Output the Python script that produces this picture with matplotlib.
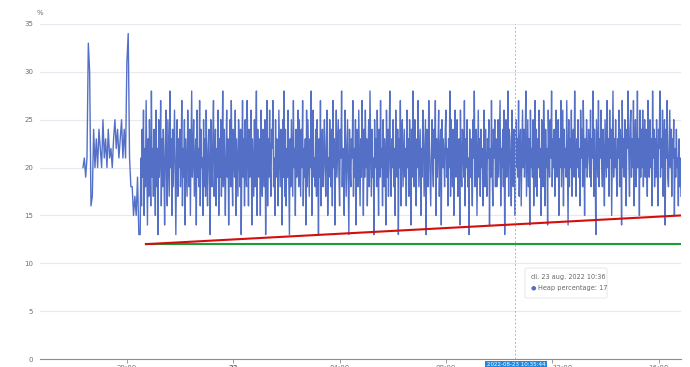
import matplotlib
matplotlib.use("Agg")
import matplotlib.pyplot as plt
import pandas as pd

# heap percentage in the evening run-up (about every 3 minutes)
early_heap = [20, 21, 19, 21, 33, 30, 16, 17, 24, 20, 23, 20, 24, 22, 20, 25, 21, 23, 20, 24,
              21, 22, 20, 23, 25, 22, 24, 21, 23, 25, 21, 24, 21, 31, 34, 21, 18, 18, 15, 17,
              15, 19, 13]
early_start, early_end = "2022-08-22 18:21", "2022-08-22 20:27"

# heap percentage for the long run (about every 1.5 minutes)
main_heap = [
    13, 21, 16, 24, 19, 26, 15, 22, 18, 27, 20, 14, 23, 17, 25, 21, 16, 28, 19, 22,
    17, 24, 20, 15, 26, 18, 22, 13, 25, 19, 21, 27, 16, 23, 18, 24, 20, 14, 22, 26,
    19, 16, 25, 21, 17, 28, 20, 23, 15, 24, 18, 22, 26, 19, 13, 21, 25, 17, 23, 20,
    24, 18, 21, 27, 16, 22, 19, 25, 14, 23, 20, 17, 26, 21, 18, 24, 15, 22, 28, 19,
    21, 25, 17, 20, 23, 14, 26, 19, 22, 18, 27, 16, 24, 20, 21, 15, 25, 18, 23, 17,
    26, 20, 16, 22, 24, 19, 13, 25, 21, 18, 23, 27, 17, 20, 24, 16, 22, 19, 26, 15,
    23, 19, 25, 17, 21, 28, 18, 24, 20, 15, 22, 26, 19, 23, 14, 21, 25, 18, 27, 20,
    16, 24, 21, 19, 26, 15, 23, 20, 17, 25, 22, 18, 24, 13, 21, 27, 19, 23, 16, 25,
    20, 18, 27, 22, 16, 24, 19, 21, 26, 14, 23, 20, 17, 25, 18, 22, 28, 15, 24, 21,
    19, 23, 15, 26, 20, 17, 24, 22, 18, 25, 13, 21, 27, 16, 23, 19, 26, 20, 17, 24,
    22, 27, 18, 21, 15, 25, 19, 23, 20, 16, 26, 22, 18, 24, 21, 14, 25, 19, 28, 17,
    24, 16, 22, 19, 26, 20, 13, 23, 18, 25, 21, 17, 27, 20, 22, 15, 24, 19, 21, 26,
    18, 25, 21, 17, 24, 20, 27, 16, 22, 19, 23, 14, 26, 18, 25, 21, 17, 23, 20, 28,
    15, 22, 26, 19, 21, 18, 24, 17, 25, 20, 13, 23, 19, 27, 16, 22, 24, 18, 21, 25,
    20, 17, 23, 26, 15, 21, 19, 25, 22, 18, 24, 16, 27, 20, 23, 14, 21, 26, 19, 22,
    25, 19, 16, 24, 21, 28, 18, 22, 20, 15, 26, 23, 17, 21, 25, 19, 13, 24, 20, 18,
    23, 21, 27, 17, 22, 19, 25, 14, 24, 20, 18, 26, 21, 16, 23, 19, 27, 22, 15, 24,
    19, 26, 20, 23, 16, 21, 25, 18, 28, 22, 17, 24, 19, 21, 13, 25, 20, 23, 18, 26,
    21, 15, 24, 19, 27, 20, 22, 16, 25, 18, 23, 21, 14, 26, 19, 24, 17, 22, 28, 20,
    17, 23, 20, 25, 18, 22, 15, 26, 21, 19, 24, 13, 23, 20, 27, 16, 22, 25, 18, 21,
    24, 19, 22, 16, 26, 20, 23, 17, 25, 21, 14, 24, 19, 28, 22, 18, 25, 20, 16, 23,
    20, 27, 18, 21, 24, 15, 22, 19, 26, 23, 17, 21, 25, 13, 24, 20, 18, 27, 22, 19,
    16, 22, 25, 20, 18, 24, 21, 27, 15, 23, 19, 22, 26, 17, 21, 24, 14, 25, 20, 23,
    21, 18, 24, 26, 19, 22, 16, 23, 20, 28, 17, 25, 21, 18, 24, 15, 22, 26, 19, 20,
    25, 17, 21, 23, 14, 26, 20, 18, 24, 22, 19, 27, 16, 23, 20, 25, 18, 21, 13, 24,
    19, 23, 20, 16, 25, 21, 28, 18, 22, 24, 15, 21, 26, 19, 23, 17, 24, 20, 22, 16,
    22, 26, 18, 24, 20, 17, 23, 21, 25, 14, 22, 19, 27, 20, 16, 24, 21, 25, 18, 23,
    18, 21, 25, 19, 23, 27, 16, 22, 20, 24, 18, 26, 13, 21, 25, 19, 22, 28, 17, 24,
    23, 20, 16, 26, 21, 18, 24, 22, 15, 25, 20, 23, 19, 27, 17, 22, 24, 16, 21, 26,
    20, 24, 19, 22, 28, 17, 21, 25, 18, 23, 14, 26, 20, 22, 19, 25, 16, 23, 27, 18,
    24, 17, 23, 20, 26, 19, 22, 15, 25, 21, 18, 27, 23, 16, 24, 20, 22, 14, 26, 21,
    19, 25, 21, 28, 18, 23, 20, 24, 17, 22, 26, 19, 21, 25, 15, 23, 20, 27, 18, 22,
    26, 16, 24, 20, 22, 19, 27, 21, 14, 25, 18, 23, 20, 26, 17, 22, 24, 19, 28, 21,
    17, 23, 20, 25, 19, 22, 16, 26, 21, 24, 18, 27, 22, 15, 23, 20, 25, 19, 21, 24,
    22, 19, 26, 18, 23, 21, 28, 17, 24, 20, 13, 25, 22, 19, 27, 18, 23, 21, 26, 20,
    18, 24, 21, 16, 25, 22, 19, 27, 20, 23, 17, 26, 21, 24, 15, 22, 28, 19, 23, 20,
    25, 20, 17, 23, 21, 26, 18, 24, 22, 14, 27, 20, 23, 19, 25, 21, 16, 24, 22, 28,
    21, 17, 24, 26, 19, 23, 20, 27, 16, 22, 25, 18, 21, 28, 20, 23, 15, 26, 19, 24,
    20, 26, 18, 22, 25, 19, 24, 21, 17, 27, 22, 19, 25, 20, 23, 16, 28, 21, 24, 18,
    23, 19, 25, 21, 16, 24, 22, 28, 19, 23, 20, 26, 17, 22, 25, 14, 24, 21, 27, 19,
    18, 22, 26, 20, 24, 17, 23, 21, 25, 15, 22, 19, 24, 20, 21, 16, 23, 18, 21, 17,
]
main_start, main_end = "2022-08-22 20:30", "2022-08-23 16:50"

trend_times = ["2022-08-22 20:43", "2022-08-23 16:50"]
red_trend = [12, 15]
green_base = [12, 12]

y_ticks = [0, 5, 10, 15, 20, 25, 30, 35]
x_ticks = ["2022-08-22 20:00", "2022-08-23 00:00", "2022-08-23 04:00",
           "2022-08-23 08:00", "2022-08-23 12:00", "2022-08-23 16:00"]
x_labels = ["20:00", "23", "04:00", "08:00", "12:00", "16:00"]

cursor_time = "2022-08-23 10:36"
tooltip_title = "di. 23 aug. 2022 10:36"
tooltip_series = "Heap percentage: 17"
cursor_label = "2022-08-23 10:35:44"

W, H = 690, 367
fig = plt.figure(figsize=(W / 100, H / 100), dpi=100)
ax = fig.add_axes([40 / W, 8 / H, 641 / W, 335 / H])

times = pd.date_range(early_start, early_end, periods=len(early_heap)).append(
    pd.date_range(main_start, main_end, periods=len(main_heap)))
ax.plot(times, early_heap + main_heap, color="#5470c6", lw=1.0, zorder=3)
tt = pd.to_datetime(trend_times)
ax.plot(tt, green_base, color="#1e9a36", lw=1.5, zorder=4)
ax.plot(tt, red_trend, color="#d40d0d", lw=1.5, zorder=5)

ax.set_ylim(0, 35)
ax.set_xlim(pd.Timestamp("2022-08-22 16:44"), pd.Timestamp(main_end))
ax.set_yticks(y_ticks)
ax.set_yticklabels([str(v) for v in y_ticks])
ax.set_xticks(pd.to_datetime(x_ticks))
ax.set_xticklabels(x_labels)
for lab in ax.get_xticklabels():
    if lab.get_text() == "23":
        lab.set_fontweight("bold")
    if lab.get_text() == "12:00":
        # pushed aside by the axis pointer label, as in the dashboard
        lab.set_horizontalalignment("left")
        lab.set_x(lab.get_position()[0])

ax.grid(axis="y", color="#e6e9f0", lw=0.8)
ax.set_axisbelow(True)
for s in ["top", "right", "left"]:
    ax.spines[s].set_visible(False)
ax.spines["bottom"].set_color("#8a8d96")
ax.spines["bottom"].set_linewidth(0.8)
ax.tick_params(axis="y", length=0, pad=5, labelsize=5, labelcolor="#6e7079")
ax.tick_params(axis="x", length=3, width=0.6, color="#8a8d96", pad=1,
               labelsize=5, labelcolor="#6e7079")
for lab in ax.get_xticklabels():
    if lab.get_text() == "12:00":
        lab.set_horizontalalignment("left")

fig.text(40 / W, 1 - 13 / H, "%", fontsize=5, color="#6e7079", ha="center", va="center")

# crosshair
ax.axvline(pd.Timestamp(cursor_time), color="#b5b5b5", lw=0.7, ls=(0, (2, 2)), zorder=6)

# tooltip
tip = matplotlib.patches.FancyBboxPatch((525 / W, 1 - 298 / H), 82 / W, 30 / H,
                                        boxstyle="round,pad=0,rounding_size=0.004",
                                        transform=fig.transFigure, facecolor="white",
                                        edgecolor="#e4e4e4", lw=0.6, zorder=10)
fig.patches.append(tip)
fig.text(531 / W, 1 - 277 / H, tooltip_title, fontsize=4.7, color="#666666",
         va="center", zorder=11)
fig.text(533 / W, 1 - 288 / H, "\u25cf", fontsize=4.5, color="#5470c6", ha="center",
         va="center", zorder=11)
fig.text(538 / W, 1 - 288 / H, tooltip_series, fontsize=4.7, color="#666666",
         va="center", zorder=11)

# axis pointer label
fig.text(516 / W, 1 - 365 / H, cursor_label, fontsize=4.0, color="white", ha="center",
         va="center", zorder=11,
         bbox=dict(boxstyle="square,pad=0.3", facecolor="#1f8ae0", edgecolor="none"))

fig.savefig("out.png", dpi=100)
